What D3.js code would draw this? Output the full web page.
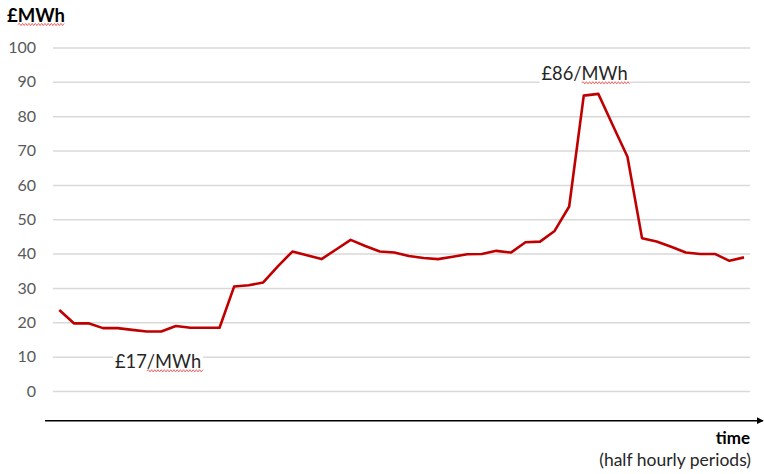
<!DOCTYPE html>
<html>
<head>
<meta charset="utf-8">
<script src="https://cdn.jsdelivr.net/npm/d3@7"></script>
<style>
  html, body { margin: 0; padding: 0; background: #fff; }
  svg { display: block; }
</style>
</head>
<body>
<svg id="chart" width="764" height="474"></svg>
<script>
// ---- data ----
const periods = d3.range(1, 49); // 48 half-hourly periods
const prices = [
  23.6, 19.7, 19.7, 18.3, 18.3, 17.8, 17.3, 17.3, 18.9, 18.4,
  18.4, 18.4, 30.4, 30.8, 31.6, 36.3, 40.6, 39.5, 38.4, 41.2,
  44.0, 42.2, 40.6, 40.3, 39.3, 38.7, 38.4, 39.1, 39.8, 39.9,
  40.8, 40.3, 43.3, 43.5, 46.6, 53.7, 86.0, 86.5, 77.3, 68.2,
  44.5, 43.5, 42.0, 40.3, 39.9, 39.9, 37.9, 38.9
];
const yTicks = [0, 10, 20, 30, 40, 50, 60, 70, 80, 90, 100];
const annotations = [
  { text: "£17/MWh", period: 7, value: 17.3, wavyFrom: 3 },
  { text: "£86/MWh", period: 38, value: 86.5, wavyFrom: 4 }
];

// ---- layout ----
const svg = d3.select("#chart");
const font = "Lato, 'Open Sans', sans-serif";
const x = d3.scaleLinear().domain([1, 48]).range([59.3, 744]);
const y = d3.scaleLinear().domain([0, 100]).range([391, 47.5]);
const gridLeft = 53, gridRight = 750;

function wavy(x0, x1, yy) {
  let d = `M${x0},${yy}`;
  let up = true;
  for (let xx = x0 + 1.6; xx <= x1; xx += 1.6) {
    d += ` L${xx},${yy + (up ? -1.1 : 1.1)}`;
    up = !up;
  }
  return d;
}

// y axis with gridlines
const yAxis = d3.axisLeft(y)
  .tickValues(yTicks)
  .tickSizeInner(gridRight - gridLeft)
  .tickSizeOuter(0)
  .tickPadding(17);
const gy = svg.append("g")
  .attr("transform", `translate(${gridRight},0)`)
  .call(yAxis);
gy.select(".domain").remove();
gy.selectAll(".tick line").attr("stroke", "#d9d9d9").attr("stroke-width", 1.5);
gy.selectAll(".tick text")
  .attr("fill", "#595959")
  .style("font-family", font)
  .style("font-size", "16px");

// x axis line with arrow
svg.append("defs").append("marker")
  .attr("id", "arrow")
  .attr("viewBox", "0 0 10 10")
  .attr("refX", 9).attr("refY", 5)
  .attr("markerWidth", 7).attr("markerHeight", 7)
  .attr("markerUnits", "userSpaceOnUse")
  .attr("orient", "auto")
  .append("path").attr("d", "M0,0 L10,5 L0,10 Z").attr("fill", "#000");
svg.append("line")
  .attr("x1", 45).attr("x2", 763)
  .attr("y1", 420.7).attr("y2", 420.7)
  .attr("stroke", "#000").attr("stroke-width", 1.6)
  .attr("marker-end", "url(#arrow)");

// price line
const line = d3.line().x((d, i) => x(periods[i])).y(d => y(d));
svg.append("path")
  .datum(prices)
  .attr("d", line)
  .attr("fill", "none")
  .attr("stroke", "#c00000")
  .attr("stroke-width", 2.6)
  .attr("stroke-linejoin", "round");

// annotations with white backgrounds
const annPos = [
  { x: 115, y: 368 },
  { x: 541.5, y: 80 }
];
annotations.forEach((a, k) => {
  const g = svg.append("g");
  const t = g.append("text")
    .attr("x", annPos[k].x).attr("y", annPos[k].y)
    .attr("fill", "#262626")
    .style("font-family", font)
    .style("font-size", "18.3px")
    .text(a.text);
  const bb = t.node().getBBox();
  g.insert("rect", "text")
    .attr("x", bb.x - 2).attr("y", bb.y)
    .attr("width", bb.width + 4).attr("height", bb.height)
    .attr("fill", "#fff");
  const sub = t.node().getSubStringLength(0, a.wavyFrom);
  g.append("path")
    .attr("d", wavy(bb.x + sub, bb.x + bb.width + 3, annPos[k].y + 2.8))
    .attr("fill", "none").attr("stroke", "#f06060").attr("stroke-width", 1);
});

// y axis title
const yt = svg.append("text")
  .attr("x", 7).attr("y", 22)
  .attr("fill", "#000")
  .style("font-family", font)
  .style("font-size", "18.5px")
  .style("font-weight", "bold")
  .text("£MWh");
const ytb = yt.node().getBBox();
const ytsub = yt.node().getSubStringLength(0, 1);
svg.append("path")
  .attr("d", wavy(ytb.x + ytsub, ytb.x + ytb.width, 24.5))
  .attr("fill", "none").attr("stroke", "#f06060").attr("stroke-width", 1);

// x axis titles
svg.append("text")
  .attr("x", 750).attr("y", 444)
  .attr("text-anchor", "end")
  .attr("fill", "#000")
  .style("font-family", font)
  .style("font-size", "17px")
  .style("font-weight", "bold")
  .text("time");
svg.append("text")
  .attr("x", 751).attr("y", 466)
  .attr("text-anchor", "end")
  .attr("fill", "#262626")
  .style("font-family", font)
  .style("font-size", "17.5px")
  .text("(half hourly periods)");
</script>
</body>
</html>
